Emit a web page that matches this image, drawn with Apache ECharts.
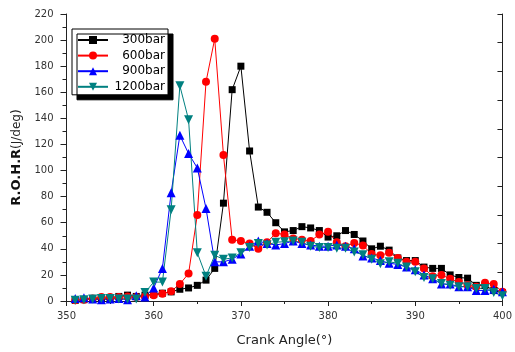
<!DOCTYPE html>
<html><head><meta charset="utf-8">
<script src="https://cdn.jsdelivr.net/npm/echarts@6/dist/echarts.min.js"></script>
<style>html,body{margin:0;padding:0;background:#fff}#c{width:515px;height:352px}</style>
</head><body><div id="c"></div>
<script>
const crankAngles = [351,352,353,354,355,356,357,358,359,360,361,362,363,364,365,366,367,368,369,370,
  371,372,373,374,375,376,377,378,379,380,381,382,383,384,385,386,387,388,389,390,
  391,392,393,394,395,396,397,398,399,400];
const seriesNames = ['300bar','600bar','900bar','1200bar'];
const rohr300 = [0.5,1,1.5,2,2.5,3.5,4.5,3.5,4.5,5,6,7,9,10,12,16,25,75,162,180,
  115,72,68,60,53,54,57,56,54,49,50,54,51,46,40,42,39,33,31,31,
  26,25,25,20,18,17.5,12,12,8,6.5];
const rohr600 = [0.5,1,2,3,3,3,3.5,3,3.5,4.5,5.5,7.5,13,21,66,168,201,112,47,46,
  44,40,45,52,51,48,47,46,51,53,45,42,44.5,42.5,36,35,37,33,30,30,
  25,19,20,17,14.5,12,11,14,13,7];
const rohr900 = [2,2.5,1.5,1,1.5,2,1,4,3,10,25,83,127,113,102,71,30,30,32,36,
  42,46,44,43,44,46,44,43,42,42,43,42,40,34.5,33,31,29,28,26,24,
  20,17,13,13,11,11,8,8,9,7];
const rohr1200 = [0.5,1,1.5,2,2,1.5,1.5,1.5,6.5,14.5,14.5,70,165,139,37,19,35,32,33,37,
  41,44,43,45,45.5,46,45,42,41,41,40.5,40.5,37.5,35.5,32,28.5,30,29,26,22.5,
  18,17,13.5,12,11,11,9.5,9.5,6.5,4];
const xTicks = [350,360,370,380,390,400];
const yTicks = [0,20,40,60,80,100,120,140,160,180,200,220];

const FONT = 'DejaVu Sans';
const chart = echarts.init(document.getElementById('c'), null, {renderer:'canvas'});
const pairs = arr => crankAngles.map((a,i)=>[a,arr[i]]);
const styles = [
  {color:'#000000', symbol:'rect', size:7, rot:0},
  {color:'#ff0000', symbol:'circle', size:8, rot:0},
  {color:'#0000ff', symbol:'triangle', size:9, rot:0},
  {color:'#008080', symbol:'triangle', size:9, rot:180}
];
const values = [rohr300, rohr600, rohr900, rohr1200];
const axisCol = '#222';
chart.setOption({
  animation:false,
  backgroundColor:'#fff',
  grid:{left:66.5, right:7, top:14, bottom:49.5},
  legend:{
    orient:'vertical', left:72, top:29,
    padding:[5,3,2,5], itemGap:3.6, itemWidth:30, itemHeight:10,
    backgroundColor:'#fff', borderColor:'#000', borderWidth:1,
    shadowColor:'#000', shadowBlur:0, shadowOffsetX:5, shadowOffsetY:5,
    data:seriesNames,
    formatter: n => '{t|' + n + '}',
    textStyle:{rich:{t:{width:52, align:'right', fontSize:12, fontFamily:FONT, color:'#000', lineHeight:12}}}
  },
  xAxis:[{
    type:'value', min:xTicks[0], max:xTicks[xTicks.length-1], interval:10, position:'bottom',
    axisLine:{lineStyle:{color:axisCol, width:1}},
    axisTick:{inside:false, length:5, lineStyle:{color:axisCol}},
    minorTick:{show:true, splitNumber:2, length:3, lineStyle:{color:axisCol}},
    axisLabel:{fontFamily:FONT, fontSize:10, color:'#333', margin:10},
    splitLine:{show:false},
    name:'Crank Angle(°)', nameLocation:'middle', nameGap:33,
    nameTextStyle:{fontFamily:FONT, fontSize:13, color:'#222'}
  },{
    type:'value', min:xTicks[0], max:xTicks[xTicks.length-1], interval:10, position:'top',
    axisLine:{lineStyle:{color:axisCol, width:1}},
    axisTick:{inside:true, length:5, lineStyle:{color:axisCol}},
    minorTick:{show:true, splitNumber:2, length:3, lineStyle:{color:axisCol}},
    axisLabel:{show:false}, splitLine:{show:false}
  }],
  yAxis:[{
    type:'value', min:yTicks[0], max:yTicks[yTicks.length-1], interval:20, position:'left',
    axisLine:{show:true, lineStyle:{color:axisCol, width:1}},
    axisTick:{show:true, inside:false, length:6, lineStyle:{color:axisCol}},
    minorTick:{show:true, splitNumber:2, length:4, lineStyle:{color:axisCol}},
    axisLabel:{fontFamily:FONT, fontSize:10, color:'#333', margin:13},
    splitLine:{show:false},
    name:'{b|R.O.H.R}{n|(J/deg)}', nameLocation:'middle', nameGap:41,
    nameTextStyle:{rich:{
      b:{fontFamily:FONT, fontSize:13, fontWeight:'bold', color:'#111'},
      n:{fontFamily:FONT, fontSize:12, color:'#222'}
    }}
  },{
    type:'value', min:0, max:220, interval:22, position:'right',
    axisLine:{show:true, lineStyle:{color:axisCol, width:1}},
    axisTick:{show:true, inside:true, length:5, lineStyle:{color:axisCol}},
    axisLabel:{show:false}, splitLine:{show:false}
  }],
  series: seriesNames.map((name,i)=>({
    name, type:'line', xAxisIndex:0, yAxisIndex:0,
    data: pairs(values[i]),
    symbol: styles[i].symbol, symbolSize: styles[i].size, symbolRotate: styles[i].rot,
    showAllSymbol:true,
    lineStyle:{color:styles[i].color, width:1},
    itemStyle:{color:styles[i].color},
    emphasis:{disabled:true}
  }))
});
</script></body></html>
